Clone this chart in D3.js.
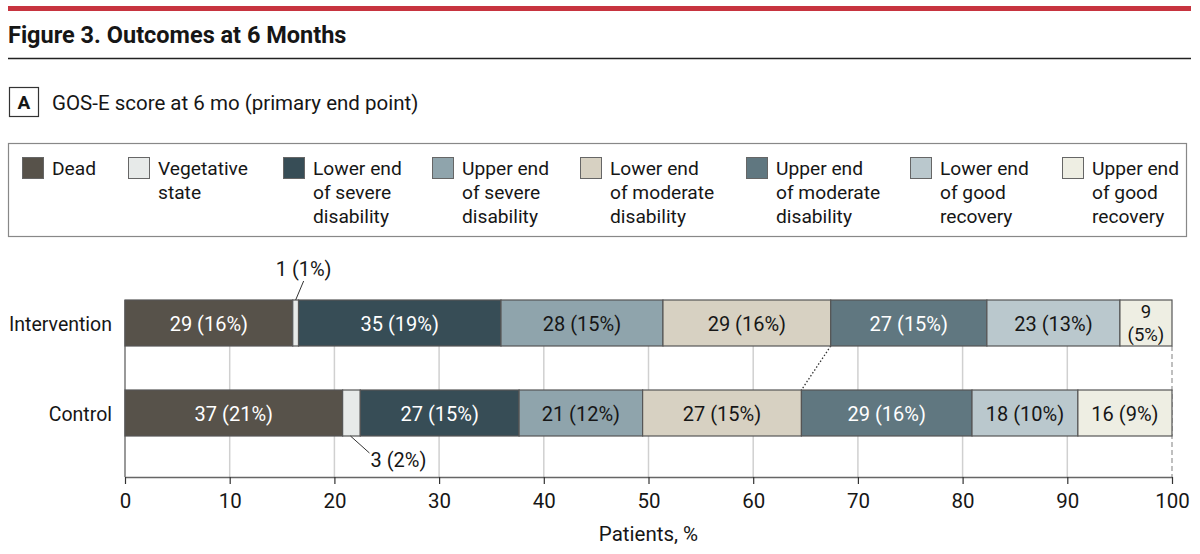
<!DOCTYPE html>
<html>
<head>
<meta charset="utf-8">
<script src="https://cdn.jsdelivr.net/npm/d3@7"></script>
<style>
  body { margin: 0; background: #fff; }
  svg { display: block; font-family: Roboto, "Noto Sans", sans-serif; }
</style>
</head>
<body>
<svg width="1200" height="554"></svg>
<script>
"use strict";

const title = "Figure 3. Outcomes at 6 Months";
const panelTitle = "GOS-E score at 6 mo (primary end point)";

const groups = ["Intervention", "Control"];
const categories = [
  "Dead",
  "Vegetative state",
  "Lower end of severe disability",
  "Upper end of severe disability",
  "Lower end of moderate disability",
  "Upper end of moderate disability",
  "Lower end of good recovery",
  "Upper end of good recovery"
];
const legendLines = [
  ["Dead"],
  ["Vegetative", "state"],
  ["Lower end", "of severe", "disability"],
  ["Upper end", "of severe", "disability"],
  ["Lower end", "of moderate", "disability"],
  ["Upper end", "of moderate", "disability"],
  ["Lower end", "of good", "recovery"],
  ["Upper end", "of good", "recovery"]
];
const interventionCounts = [29, 1, 35, 28, 29, 27, 23, 9];
const controlCounts = [37, 3, 27, 21, 27, 29, 18, 16];
const xTicks = [0, 10, 20, 30, 40, 50, 60, 70, 80, 90, 100];

const colors = ["#57524a", "#e7eae9", "#374d56", "#8fa4ac", "#d7d1c2", "#607780", "#bac8cd", "#eeeee3"];
const lightText = [true, false, true, false, false, true, false, false];

const svg = d3.select("svg");
const ink = "#161616";

// header
svg.append("rect").attr("x", 8).attr("y", 6).attr("width", 1183).attr("height", 5).attr("fill", "#c7343f");
svg.append("text").attr("x", 8).attr("y", 43)
  .attr("font-size", 23.5).attr("font-weight", "bold").attr("fill", ink).text(title);
svg.append("line").attr("x1", 8).attr("x2", 1191).attr("y1", 58.5).attr("y2", 58.5)
  .attr("stroke", "#222").attr("stroke-width", 1.5);

svg.append("rect").attr("x", 9.5).attr("y", 87.5).attr("width", 29).attr("height", 29)
  .attr("fill", "#fff").attr("stroke", "#333").attr("stroke-width", 1.2);
svg.append("text").attr("x", 24).attr("y", 109).attr("text-anchor", "middle")
  .attr("font-size", 19).attr("font-weight", "bold").attr("fill", ink).text("A");
svg.append("text").attr("x", 52).attr("y", 110)
  .attr("font-size", 20.5).attr("fill", ink).text(panelTitle);

// legend
svg.append("rect").attr("x", 8.5).attr("y", 143.5).attr("width", 1178).attr("height", 93)
  .attr("fill", "none").attr("stroke", "#888").attr("stroke-width", 1.2);

const legendX = [22, 128, 283, 432, 580, 746, 910, 1062];
const legend = svg.append("g").selectAll("g")
  .data(categories)
  .join("g")
  .attr("transform", (d, i) => `translate(${legendX[i]},157)`);

legend.append("rect")
  .attr("x", 0.5).attr("y", 0.5).attr("width", 21).attr("height", 21)
  .attr("fill", (d, i) => colors[i])
  .attr("stroke", "#666").attr("stroke-width", 1);

legend.append("text")
  .attr("font-size", 19.2).attr("fill", ink)
  .selectAll("tspan")
  .data((d, i) => legendLines[i])
  .join("tspan")
  .attr("x", 30)
  .attr("y", (d, j) => 18 + j * 24)
  .text(d => d);

// chart
const xScale = d3.scaleLinear().domain([0, 100]).range([125, 1172]);
const barH = 46;
const barTop = g => g === "Intervention" ? 300 : 390;
const axisY = 477;

const rows = groups.map(g => {
  const counts = g === "Intervention" ? interventionCounts : controlCounts;
  const total = d3.sum(counts);
  let cum = 0;
  return counts.map((c, i) => {
    const pct = c / total * 100;
    const seg = { group: g, i, count: c, pct, x0: cum, x1: cum + pct };
    cum += pct;
    return seg;
  });
});

// gridlines
svg.append("g").selectAll("line")
  .data(xTicks.slice(1, -1))
  .join("line")
  .attr("x1", d => xScale(d)).attr("x2", d => xScale(d))
  .attr("y1", 300).attr("y2", axisY)
  .attr("stroke", "#d0d0d0").attr("stroke-width", 1.5);

svg.append("line")
  .attr("x1", xScale(0)).attr("x2", xScale(0)).attr("y1", 300).attr("y2", axisY)
  .attr("stroke", "#777").attr("stroke-width", 1.5);

svg.append("line")
  .attr("x1", xScale(100)).attr("x2", xScale(100)).attr("y1", 346).attr("y2", axisY)
  .attr("stroke", "#aaa").attr("stroke-width", 1.5).attr("stroke-dasharray", "5,3");

// dotted connector between the two bars (after lower end of moderate disability)
svg.append("line")
  .attr("x1", xScale(rows[0][4].x1)).attr("y1", barTop("Intervention") + barH)
  .attr("x2", xScale(rows[1][4].x1)).attr("y2", barTop("Control"))
  .attr("stroke", "#333").attr("stroke-width", 1.3).attr("stroke-dasharray", "1.5,2");

// bars
const segs = rows.flat();
svg.append("g").selectAll("rect")
  .data(segs)
  .join("rect")
  .attr("x", d => xScale(d.x0))
  .attr("y", d => barTop(d.group))
  .attr("width", d => xScale(d.x1) - xScale(d.x0))
  .attr("height", barH)
  .attr("fill", d => colors[d.i])
  .attr("stroke", "#555")
  .attr("stroke-width", 1.2);

const label = d => `${d.count} (${Math.round(d.pct)}%)`;

svg.append("g").selectAll("text")
  .data(segs.filter(d => d.i !== 1 && !(d.group === "Intervention" && d.i === 7)))
  .join("text")
  .attr("x", d => xScale((d.x0 + d.x1) / 2))
  .attr("y", d => barTop(d.group) + barH / 2 + 7.5)
  .attr("text-anchor", "middle")
  .attr("font-size", 20)
  .attr("fill", d => lightText[d.i] ? "#fff" : ink)
  .text(label);

// narrow last segment of intervention: two-line label
const lastSeg = rows[0][7];
const lastX = xScale((lastSeg.x0 + lastSeg.x1) / 2);
svg.append("text")
  .attr("x", lastX).attr("y", barTop("Intervention") + 18)
  .attr("text-anchor", "middle").attr("font-size", 18.5).attr("fill", ink)
  .text(lastSeg.count);
svg.append("text")
  .attr("x", lastX).attr("y", barTop("Intervention") + 41)
  .attr("text-anchor", "middle").attr("font-size", 18.5).attr("fill", ink)
  .text(`(${Math.round(lastSeg.pct)}%)`);

// vegetative state callouts
const vegI = rows[0][1];
const vegC = rows[1][1];
const vegIx = xScale((vegI.x0 + vegI.x1) / 2);
const vegCx = xScale((vegC.x0 + vegC.x1) / 2);
svg.append("line")
  .attr("x1", vegIx).attr("y1", 300).attr("x2", vegIx + 8).attr("y2", 281)
  .attr("stroke", "#333").attr("stroke-width", 1);
svg.append("text").attr("x", vegIx + 8).attr("y", 276).attr("text-anchor", "middle")
  .attr("font-size", 20).attr("fill", ink).text(label(vegI));

svg.append("line")
  .attr("x1", vegCx - 1).attr("y1", 436).attr("x2", vegCx + 18).attr("y2", 453)
  .attr("stroke", "#333").attr("stroke-width", 1);
svg.append("text").attr("x", vegCx + 19).attr("y", 467)
  .attr("font-size", 20).attr("fill", ink).text(label(vegC));

// group labels
svg.append("g").selectAll("text")
  .data(groups)
  .join("text")
  .attr("x", 112)
  .attr("y", g => barTop(g) + barH / 2 + 7.5)
  .attr("text-anchor", "end")
  .attr("font-size", 19.5)
  .attr("fill", ink)
  .text(g => g);

// x axis
const xAxis = d3.axisBottom(xScale).tickValues(xTicks).tickSize(7).tickPadding(9).tickSizeOuter(0);
const xAxisG = svg.append("g")
  .attr("transform", `translate(0,${axisY})`)
  .call(xAxis);
xAxisG.select(".domain").attr("stroke", "#666").attr("stroke-width", 1.5);
xAxisG.selectAll(".tick line").attr("stroke", "#333").attr("stroke-width", 1.2);
xAxisG.selectAll(".tick text")
  .attr("font-family", "Roboto, sans-serif")
  .attr("font-size", 20.5)
  .attr("fill", ink);

svg.append("text")
  .attr("x", xScale(50)).attr("y", 541)
  .attr("text-anchor", "middle")
  .attr("font-size", 20.5)
  .attr("fill", ink)
  .text("Patients, %");
</script>
</body>
</html>
